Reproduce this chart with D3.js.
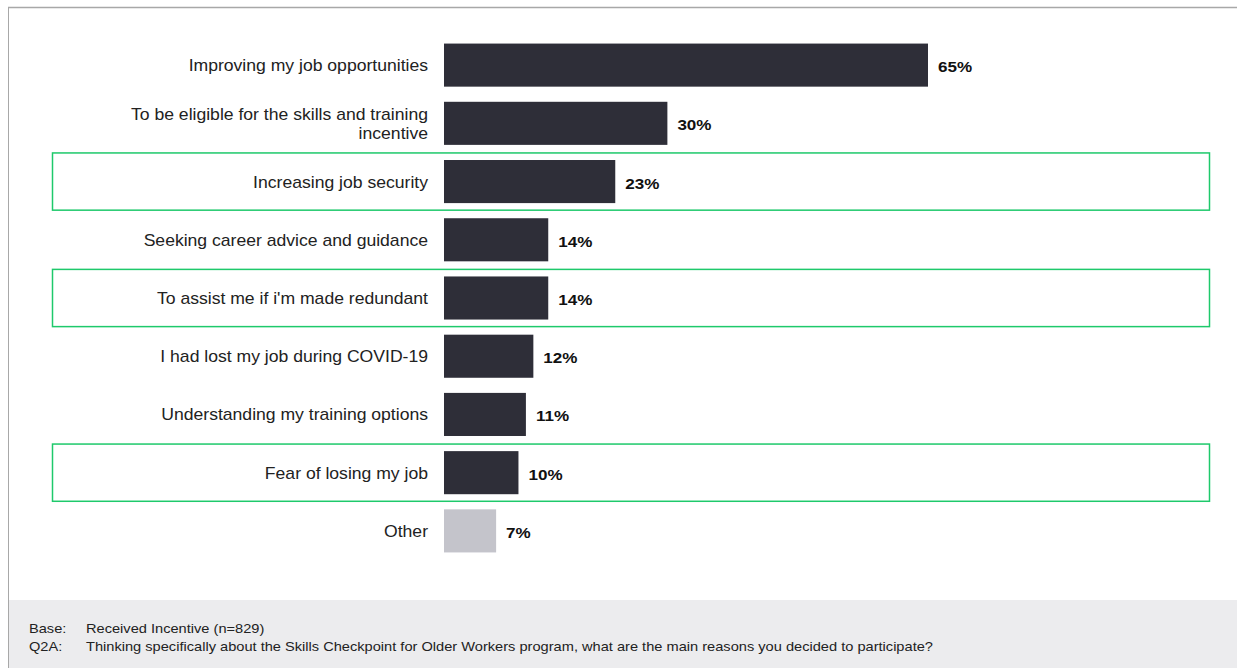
<!DOCTYPE html>
<html>
<head>
<meta charset="utf-8">
<script src="https://cdn.jsdelivr.net/npm/d3@7"></script>
<style>
  body { margin: 0; background: #fff; }
  text { font-family: "Liberation Sans", Arial, sans-serif; }
</style>
</head>
<body>
<script>
// chart data
const categories = [
    ['Improving my job opportunities'],
    ['To be eligible for the skills and training', 'incentive'],
    ['Increasing job security'],
    ['Seeking career advice and guidance'],
    ["To assist me if i'm made redundant"],
    ['I had lost my job during COVID-19'],
    ['Understanding my training options'],
    ['Fear of losing my job'],
    ['Other']
]
const values = [65, 30, 23, 14, 14, 12, 11, 10, 7]
const highlighted = [2, 4, 7]
const footerLabels = ['Base:', 'Q2A:']
const footerTexts = [
    'Received Incentive (n=829)',
    'Thinking specifically about the Skills Checkpoint for Older Workers  program, what are the main reasons you decided to participate?'
]

const w = 1237
const h = 668
// the reference text looks a bit wider than plain Arial
const stretch = 1.1

const svg = d3.select('body')
    .append('svg')
    .attr('width', w)
    .attr('height', h)

// outer frame lines
svg.append('line')
    .attr('x1', 8).attr('x2', w).attr('y1', 7.5).attr('y2', 7.5)
    .attr('stroke', '#a8a8a8').attr('stroke-width', 1.5)
svg.append('line')
    .attr('x1', 8.5).attr('x2', 8.5).attr('y1', 7).attr('y2', h)
    .attr('stroke', '#a8a8a8').attr('stroke-width', 1)

// footer band
svg.append('rect')
    .attr('x', 9).attr('y', 600)
    .attr('width', w - 9).attr('height', h - 600)
    .attr('fill', '#ececee')

// scales
const xScale = d3.scaleLinear()
    .domain([0, 65])
    .range([444, 928])

const yScale = d3.scaleBand()
    .domain(d3.range(values.length))
    .range([36, 560])
    .paddingInner(0.26)
    .paddingOuter(0.13)

const step = yScale.step()

// highlight boxes
svg.selectAll('rect.hl')
    .data(highlighted)
    .enter()
    .append('rect')
    .attr('class', 'hl')
    .attr('x', 52.5)
    .attr('width', 1157)
    .attr('y', d => yScale(d) + yScale.bandwidth() / 2 - step / 2 + 0.5)
    .attr('height', step - 1)
    .attr('fill', 'none')
    .attr('stroke', '#1ec96b')
    .attr('stroke-width', 1.5)

// bars
svg.selectAll('rect.bar')
    .data(values)
    .enter()
    .append('rect')
    .attr('class', 'bar')
    .attr('x', xScale(0))
    .attr('y', (d, i) => yScale(i))
    .attr('width', d => xScale(d) - xScale(0))
    .attr('height', yScale.bandwidth())
    .attr('fill', (d, i) => i === values.length - 1 ? '#c4c4cb' : '#2e2e38')

// value labels
svg.selectAll('text.val')
    .data(values)
    .enter()
    .append('text')
    .attr('class', 'val')
    .attr('transform', (d, i) => `translate(${xScale(d) + 10},${yScale(i) + yScale.bandwidth() / 2 + 7}) scale(${stretch},1)`)
    .attr('font-size', 15.5)
    .attr('font-weight', 'bold')
    .attr('fill', '#111')
    .text(d => d + '%')

// category labels
const labels = svg.selectAll('text.cat')
    .data(categories)
    .enter()
    .append('text')
    .attr('class', 'cat')
    .attr('text-anchor', 'end')
    .attr('font-size', 16)
    .attr('fill', '#222')
    .attr('transform', (d, i) => `translate(428,${yScale(i) + yScale.bandwidth() / 2 + 6 - (d.length - 1) * 9.5}) scale(${stretch},1)`)

labels.selectAll('tspan')
    .data(d => d)
    .enter()
    .append('tspan')
    .attr('x', 0)
    .attr('dy', (d, i) => i === 0 ? 0 : 19)
    .text(d => d)

// footer notes
footerLabels.forEach((lab, i) => {
    svg.append('text')
        .attr('transform', `translate(29,${633 + i * 18}) scale(1.17,1)`)
        .attr('font-size', 12.5)
        .attr('fill', '#222')
        .text(lab)
    svg.append('text')
        .attr('transform', `translate(86,${633 + i * 18}) scale(1.17,1)`)
        .attr('font-size', 12.5)
        .attr('fill', '#222')
        .text(footerTexts[i])
})
</script>
</body>
</html>
